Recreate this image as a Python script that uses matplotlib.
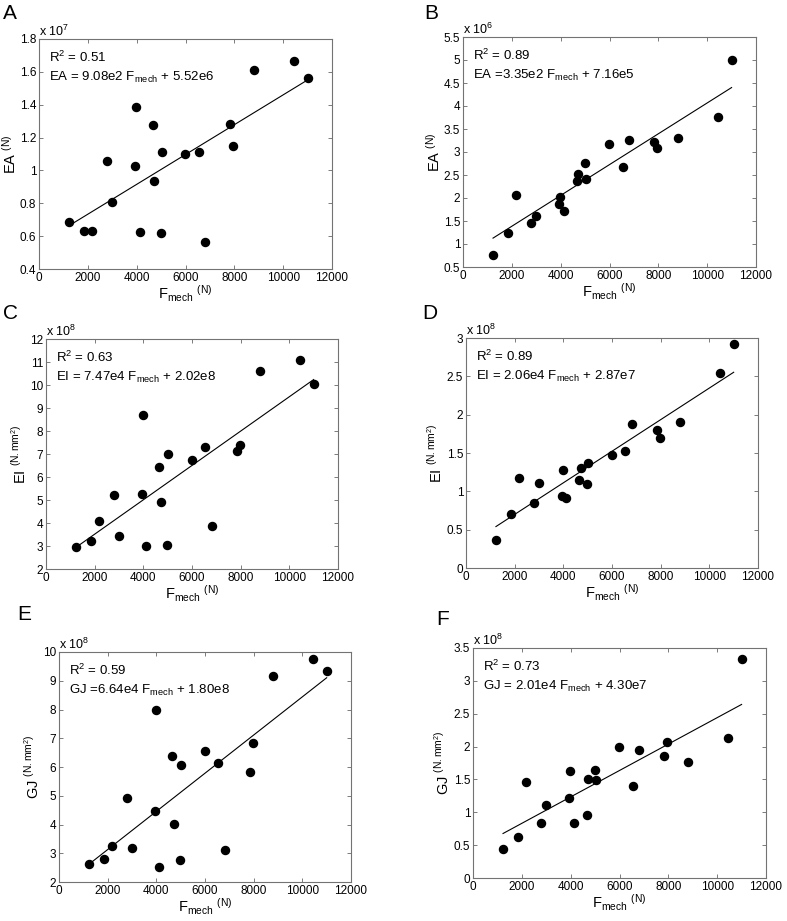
import matplotlib
matplotlib.use("Agg")
from matplotlib import pyplot as plt
from matplotlib.ticker import FuncFormatter, MultipleLocator

plt.rcParams['font.family'] = ['Liberation Sans', 'DejaVu Sans']
plt.rcParams['mathtext.fontset'] = 'custom'
plt.rcParams['mathtext.rm'] = 'Liberation Sans'
plt.rcParams['mathtext.it'] = 'Liberation Sans'

# F_mech (N), shared by all panels
fmech = [1230, 1850, 2170, 2790, 2990, 3950, 3970, 4130, 4650, 4720,
         4990, 5020, 5980, 6540, 6810, 7830, 7960, 8810, 10450, 11000]

# A: EA (x1e7 N)
ea_a = [0.684, 0.633, 0.633, 1.057, 0.810, 1.027, 1.386, 0.627, 1.279, 0.938,
        0.621, 1.114, 1.098, 1.112, 0.564, 1.283, 1.147, 1.613, 1.664, 1.561]
# B: EA (x1e6 N)
ea_b = [0.75, 1.24, 2.07, 1.45, 1.61, 1.88, 2.02, 1.72, 2.38, 2.53,
        2.75, 2.41, 3.17, 2.68, 3.25, 3.21, 3.09, 3.31, 3.77, 5.01]
# C: EI (x1e8 N.mm2)
ei_c = [2.94, 3.23, 4.07, 5.21, 3.44, 5.24, 8.70, 2.99, 6.44, 4.90,
        3.03, 6.98, 6.73, 7.31, 3.87, 7.14, 7.41, 10.62, 11.07, 10.05]
# D: EI (x1e8 N.mm2)
ei_d = [0.37, 0.70, 1.17, 0.85, 1.11, 0.94, 1.28, 0.91, 1.15, 1.31,
        1.09, 1.37, 1.48, 1.52, 1.88, 1.80, 1.69, 1.90, 2.55, 2.92]
# E: GJ (x1e8 N.mm2)
gj_e = [2.61, 2.81, 3.26, 4.91, 3.18, 4.48, 7.99, 2.51, 6.38, 4.01,
        2.78, 6.08, 6.55, 6.15, 3.10, 5.81, 6.82, 9.18, 9.77, 9.33]
# F: GJ (x1e8 N.mm2)
gj_f = [0.44, 0.63, 1.46, 0.83, 1.11, 1.22, 1.63, 0.83, 0.96, 1.50,
        1.64, 1.49, 2.00, 1.40, 1.95, 1.86, 2.07, 1.76, 2.13, 3.34]

# fit: slope, intercept (in N units), exponent of axis scale
fits = [(9.08e2, 5.52e6, 7), (3.35e2, 7.16e5, 6), (7.47e4, 2.02e8, 8),
        (2.06e4, 2.87e7, 8), (6.64e4, 1.80e8, 8), (2.01e4, 4.30e7, 8)]
r2 = ["0.51", "0.89", "0.63", "0.89", "0.59", "0.73"]
eqs = [r"EA = 9.08e2 F$_{\mathregular{mech}}$ + 5.52e6",
       r"EA =3.35e2 F$_{\mathregular{mech}}$ + 7.16e5",
       r"EI = 7.47e4 F$_{\mathregular{mech}}$ + 2.02e8",
       r"EI = 2.06e4 F$_{\mathregular{mech}}$ + 2.87e7",
       r"GJ =6.64e4 F$_{\mathregular{mech}}$ + 1.80e8",
       r"GJ = 2.01e4 F$_{\mathregular{mech}}$ + 4.30e7"]
ylabels = [r"EA $^{\mathregular{(N)}}$", r"EA $^{\mathregular{(N)}}$",
           r"EI $^{\mathregular{(N.mm^2)}}$", r"EI $^{\mathregular{(N.mm^2)}}$",
           r"GJ $^{\mathregular{(N.mm^2)}}$", r"GJ $^{\mathregular{(N.mm^2)}}$"]
ylims = [(0.4, 1.8), (0.5, 5.5), (2, 12), (0, 3), (2, 10), (0, 3.5)]
ysteps = [0.2, 0.5, 1, 0.5, 1, 0.5]
letters = ["A", "B", "C", "D", "E", "F"]
ydata = [ea_a, ea_b, ei_c, ei_d, gj_e, gj_f]

W, H = 787, 921
# axes boxes in pixels: left, top, right, bottom
boxes = [(39, 39, 332, 269), (463, 37, 756, 267),
         (46, 339, 338, 569), (466, 338, 758, 568),
         (59, 652, 351, 882), (473, 648, 766, 878)]
letter_pos = [(3, 4), (424, 4), (3, 304), (422, 304), (17, 605), (436, 610)]

fig = plt.figure(figsize=(W / 100, H / 100), dpi=100)
fmt = FuncFormatter(lambda v, p: f"{v:g}")

for i in range(6):
    l, t, r, b = boxes[i]
    ax = fig.add_axes([l / W, 1 - b / H, (r - l) / W, (b - t) / H])
    scale = 10 ** fits[i][2]
    ax.plot(fmech, ydata[i], 'o', color='black', markersize=5.8, zorder=3)
    xs = [min(fmech), max(fmech)]
    ys = [(fits[i][0] * xv + fits[i][1]) / scale for xv in xs]
    ax.plot(xs, ys, color='black', linewidth=0.8)

    ax.set_xlim(0, 12000)
    ax.set_ylim(*ylims[i])
    ax.xaxis.set_major_locator(MultipleLocator(2000))
    ax.yaxis.set_major_locator(MultipleLocator(ysteps[i]))
    ax.yaxis.set_major_formatter(fmt)
    ax.tick_params(direction='in', top=True, right=True, length=3,
                   width=0.6, color='0.4', labelsize=8.5, pad=2)
    for s in ax.spines.values():
        s.set_color('0.45')
        s.set_linewidth(0.8)

    ax.set_xlabel(r"F$_{\mathregular{mech}}$ $^{\mathregular{(N)}}$", fontsize=10.5, labelpad=0)
    ax.set_ylabel(ylabels[i], fontsize=10.5, labelpad=1)

    ax.text(0.0, 1.0, r"x 10$^{%d}$" % fits[i][2], transform=ax.transAxes,
            ha='left', va='bottom', fontsize=9)
    ax.text(0.035, 0.92, r"R$^{2}$ = " + r2[i], transform=ax.transAxes,
            ha='left', va='center', fontsize=9.5)
    ax.text(0.035, 0.835, eqs[i], transform=ax.transAxes,
            ha='left', va='center', fontsize=9.5)

    lx, ly = letter_pos[i]
    fig.text(lx / W, 1 - ly / H, letters[i], ha='left', va='top', fontsize=15)

plt.savefig("out.png", dpi=100)
